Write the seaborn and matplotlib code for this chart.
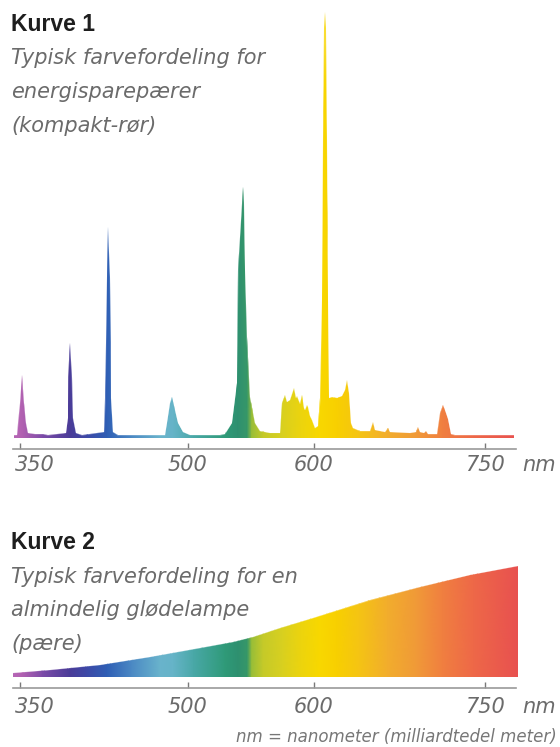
import numpy as np
import matplotlib
matplotlib.use("Agg")
import matplotlib.pyplot as plt
import seaborn as sns
from matplotlib.colors import LinearSegmentedColormap, Normalize
from matplotlib.transforms import ScaledTranslation

# ---------------- data ----------------
# Kurve 1: compact fluorescent lamp spectrum (wavelength nm, relative intensity)
SPEC_NM = [344.2, 346.9, 348.0, 349.6, 351.1, 353.1, 354.9, 356.7, 363.0, 370.2, 374.7,
           390.8, 392.2, 392.9, 394.4, 396.0, 397.1, 399.8, 405.2,
           425.0, 426.3, 426.8, 427.5, 428.5, 430.3, 430.9, 431.4, 433.0, 437.5,
           479.7, 481.2, 484.2, 486.3, 488.7, 491.7, 496.1, 501.9,
           525.7, 529.7, 535.0, 539.0, 540.3, 541.6, 544.0, 544.8, 545.8, 546.9, 549.5, 553.5, 557.5,
           565.4, 573.4, 575.0, 577.4, 578.9, 581.3, 582.9, 584.5, 586.1, 586.9, 589.3, 590.9,
           592.5, 593.3, 594.9, 595.6, 597.2, 598.8, 601.3, 603.9,
           606.1, 607.2, 608.3, 609.6, 610.1, 610.5, 611.8, 613.0, 613.8,
           616.2, 620.6, 624.9, 627.6, 629.3, 631.1, 632.8, 634.6, 640.7,
           649.5, 652.1, 653.8, 662.6, 665.2, 667.0, 684.5, 689.7, 691.5, 693.2, 696.7, 698.5, 700.3,
           708.1, 710.8, 713.4, 716.0, 717.8, 720.4, 723.9, 775.5]
SPEC_I = [0.6, 0.7, 3.5, 8.2, 14.8, 8.2, 3.5, 1.2, 0.9, 0.9, 0.6,
          1.2, 4.7, 14.3, 22.3, 14.3, 4.7, 1.2, 0.6,
          1.4, 9.4, 22.3, 37.8, 49.5, 37.8, 22.3, 9.4, 1.4, 0.6,
          0.6, 3.5, 8.2, 9.6, 6.6, 3.5, 1.4, 0.7,
          0.6, 0.9, 3.5, 12.9, 39.4, 47.2, 58.9, 55.2, 39.4, 23.7, 9.6, 3.5, 1.6,
          1.2, 1.2, 8.2, 10.1, 8.5, 8.9, 10.3, 11.7, 9.4, 9.9, 8.0, 10.1,
          7.0, 6.6, 7.7, 7.3, 5.2, 4.2, 2.3, 2.8,
          9.4, 32.4, 70.4, 96.2, 100.0, 96.2, 70.4, 32.4, 9.4,
          9.6, 9.4, 9.9, 11.3, 13.6, 10.6, 3.5, 2.3, 1.6,
          1.6, 3.8, 1.9, 1.4, 2.3, 1.4, 1.2, 1.4, 2.6, 1.4, 1.2, 1.6, 0.9,
          0.9, 5.9, 7.7, 5.9, 4.5, 0.9, 0.6, 0.6]

# Kurve 2: incandescent bulb spectrum
BULB_NM = [343.0, 376.5, 421.4, 466.2, 509.8, 536.1, 552.0, 573.4, 599.6, 649.4, 693.2, 737.0, 779.0]
BULB_I = [3.6, 6.3, 10.8, 18.0, 26.0, 31.5, 36.0, 44.0, 53.0, 69.0, 81.0, 92.0, 100.0]

TICKS_NM = [350, 500, 600, 750]
TICK_LABELS = ["350", "500", "600", "750"]

# spectral colours as printed
COLOR_NM = [340, 352, 370, 394, 410, 428, 450, 475, 487, 505, 530, 540, 547.5, 551, 560, 575,
            590, 605, 620, 640, 665, 690, 713, 740, 780]
COLOR_HEX = ["#b868b8", "#b060b0", "#7a4aa8", "#4a3c98", "#3c4aa8", "#2f5fb5", "#4a88c4",
             "#6ab4cc", "#66b4c8", "#4aa8a8", "#2f9a78", "#2e9070", "#389868", "#a8c430",
             "#c4ca2a", "#d8d020", "#ecd40e", "#f8d800", "#f8d000", "#f5c414", "#f2ae2c",
             "#f09a38", "#f08040", "#ee6848", "#e85050"]

TITLE1 = "Kurve 1"
SUB1 = ["Typisk farvefordeling for", "energisparepærer", "(kompakt-rør)"]
TITLE2 = "Kurve 2"
SUB2 = ["Typisk farvefordeling for en", "almindelig glødelampe", "(pære)"]
UNIT = "nm"
FOOT = "nm = nanometer (milliardtedel meter)"

# ---------------- layout helpers ----------------
W, H = 560, 747
# printed wavelength axis is slightly non-linear: piecewise mapping nm -> pixel
AX_NM = [200, 350, 500, 600, 750, 1000]
AX_PX = [-146.6, 20.5, 187.6, 313.5, 485.0, 770.75]


def fwd(x):
    return np.interp(x, AX_NM, AX_PX)


def inv(p):
    return np.interp(p, AX_PX, AX_NM)


sns.set_theme(style="white")
plt.rcParams["font.family"] = ["DejaVu Sans"]

fig = plt.figure(figsize=(W / 100, H / 100), dpi=100)
fig.patch.set_facecolor("white")

pos = (np.array(COLOR_NM, float) - COLOR_NM[0]) / (COLOR_NM[-1] - COLOR_NM[0])
cmap = LinearSegmentedColormap.from_list("spec", list(zip(pos, COLOR_HEX)))
norm = Normalize(COLOR_NM[0], COLOR_NM[-1])

TXT = "#6b6b6b"


def panel(top_px, bottom_px, nm, inten, ylim, spine_y, pad):
    ax = fig.add_axes([0, 1 - bottom_px / H, 1, (bottom_px - top_px) / H])
    ax.set_facecolor("none")
    ax.set_xscale("function", functions=(fwd, inv))
    poly = ax.fill_between(nm, 0, inten, facecolor="none", edgecolor="none")
    X = np.array([COLOR_NM, COLOR_NM], float)
    Y = np.array([[0.0] * len(COLOR_NM), [max(inten) * 1.02] * len(COLOR_NM)])
    mesh = ax.pcolormesh(X, Y, X, cmap=cmap, norm=norm, shading="gouraud")
    mesh.set_clip_path(poly.get_paths()[0], ax.transData)
    sns.lineplot(x=nm, y=inten, ax=ax, color="white", lw=0.4, alpha=0.35)
    ax.set_xlim(331.6, 815.6)
    ax.set_ylim(*ylim)
    for s in ["top", "right", "left"]:
        ax.spines[s].set_visible(False)
    sp = ax.spines["bottom"]
    sp.set_visible(True)
    sp.set_position(("data", spine_y))
    sp.set_bounds(343.5, 777.5)
    sp.set_color("#9a9a9a")
    sp.set_linewidth(1.2)
    ax.set_yticks([])
    ax.set_xticks(TICKS_NM, TICK_LABELS)
    ax.tick_params(axis="x", bottom=True, direction="in", length=4, width=1,
                   color="#7a7a7a", pad=pad, labelsize=15, labelcolor=TXT)
    ax.set_xlabel("")
    ax.set_ylabel("")
    labels = ax.get_xticklabels()
    for lbl in labels:
        lbl.set_fontstyle("oblique")
    labels[0].set_ha("left")
    labels[0].set_transform(labels[0].get_transform()
                            + ScaledTranslation(-6 / 100, 0, fig.dpi_scale_trans))
    return ax


# Kurve 1 panel: intensity 0 at pixel 438, 4.26 px per unit
ax1 = panel(0, 480, SPEC_NM, SPEC_I, (-42 / 4.26, 438 / 4.26), -11 / 4.26, 4.3)
# Kurve 2 panel: intensity 0 at pixel 677, 1.11 px per unit
ax2 = panel(540, 720, BULB_NM, BULB_I, (-43 / 1.11, 137 / 1.11), -10.5 / 1.11, 6.8)


def ftext(xpx, ypx, s, **kw):
    fig.text(xpx / W, 1 - ypx / H, s, **kw)


bold = dict(family=["Liberation Sans", "DejaVu Sans"], weight="bold", size=16.5,
            color="#1e1e1e", va="baseline", ha="left")
ital = dict(family=["DejaVu Sans"], style="oblique", size=15, color=TXT,
            va="baseline", ha="left")

ftext(11, 31, TITLE1, **bold)
for i, line in enumerate(SUB1):
    ftext(11, 64 + 34 * i, line, **ital)

ftext(11, 549, TITLE2, **bold)
for i, line in enumerate(SUB2):
    ftext(11, 583 + 33.5 * i, line, **ital)

ftext(522, 455, UNIT, family=["DejaVu Sans"], style="oblique", size=15, color=TXT,
      va="top", ha="left")
ftext(522, 697, UNIT, family=["DejaVu Sans"], style="oblique", size=15, color=TXT,
      va="top", ha="left")
ftext(557, 742, FOOT, family=["DejaVu Sans"], style="oblique", size=12, color="#777777",
      va="baseline", ha="right")

fig.savefig("out.png", dpi=100, facecolor="white")
